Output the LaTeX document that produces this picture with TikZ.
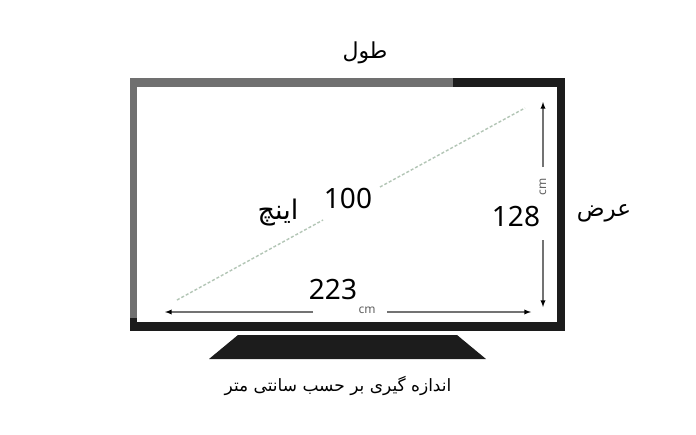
\documentclass[tikz,border=0pt]{standalone}
\usepackage{fontspec}
\setmainfont{Noto Sans}
\newfontfamily\farsi[Script=Arabic]{DejaVu Sans}
\TeXXeTstate=1
\usetikzlibrary{arrows,positioning,shapes}
\definecolor{bezel}{HTML}{1C1C1C}
\definecolor{bezelgray}{HTML}{707070}
\definecolor{dimline}{HTML}{737373}
\definecolor{diagline}{HTML}{B3C6B6}

\begin{document}
\begin{tikzpicture}[x=1pt,y=-1pt,
            number/.style={font=\fontsize{28}{30}\selectfont,inner sep=1pt},
            fa/.style={font=\farsi\fontsize{22}{24}\selectfont,inner sep=1pt},
            caption/.style={font=\farsi\fontsize{17}{19}\selectfont,inner sep=1pt},
            unit/.style={font=\fontsize{12}{13}\selectfont,text=dimline!85!black,inner sep=1pt},
            dim/.style={draw=dimline,line width=1.3pt,>=latex},
            diag/.style={draw=diagline,line width=1.4pt,densely dashed}
          ]
          \useasboundingbox (0,0) rectangle (696,434);

          %tv
          \fill[bezel] (130,78) rectangle (565,331);
          \fill[bezelgray] (130,78) rectangle (453,87);
          \fill[bezelgray] (130,87) rectangle (138,318);
          \fill[white] (137,87) rectangle (557,322);
          \fill[bezel] (238,335) -- (457,335) -- (486,359) -- (209,359) -- cycle;

          %labels
          \node[fa] (length) at (365,53) {\beginR طول\endR};
          \node[fa,font=\farsi\fontsize{23}{25}\selectfont] (width) at (604,213) {\beginR عرض\endR};
          \node[number] (diagsize) at (348,198) {100};
          \node[fa,font=\farsi\fontsize{27}{29}\selectfont] (inch) at (278,213) {\beginR اینچ\endR};
          \node[number] (heightval) at (516,217) {128};
          \node[number] (widthval) at (333,289) {223};
          \node[unit,rotate=90] (hcm) at (543,187) {cm};
          \node[unit] (wcm) at (367,310) {cm};
          \node[caption] (note) at (338,386) {\beginR اندازه گیری بر حسب سانتی متر\endR};

          %diagonal
          \coordinate (d0) at (177,300);
          \coordinate (d1) at (323,220);
          \coordinate (d2) at (380,187);
          \coordinate (d3) at (525,108);
          \path[diag]
          (d0) edge (d1)
          (d2) edge (d3)
          ;

          %dimensions
          \coordinate (h0) at (543,102);
          \coordinate (h1) at (543,167);
          \coordinate (h2) at (543,240);
          \coordinate (h3) at (543,307);
          \coordinate (w0) at (165,312);
          \coordinate (w1) at (313,312);
          \coordinate (w2) at (387,312);
          \coordinate (w3) at (531,312);
          \path[dim]
          (h1) edge[->] (h0)
          (h2) edge[->] (h3)
          (w1) edge[->] (w0)
          (w2) edge[->] (w3)
          ;

      \end{tikzpicture}
\end{document}
